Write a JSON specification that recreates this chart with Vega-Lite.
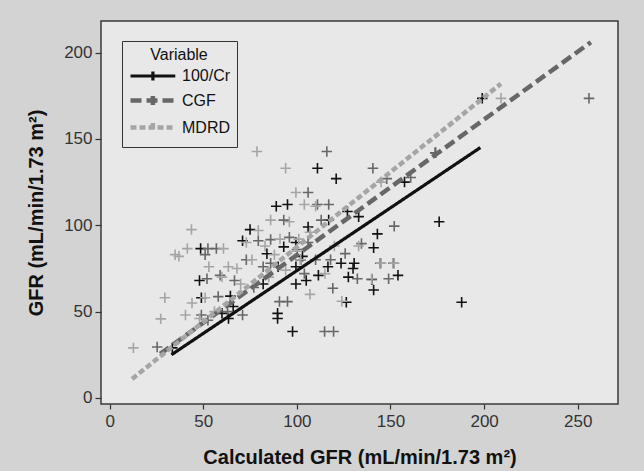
{
  "$schema": "https://vega.github.io/schema/vega-lite/v6.json",
  "width": 517,
  "height": 383,
  "autosize": {"type": "none"},
  "padding": {"left": 101, "top": 21, "right": 26, "bottom": 67},
  "background": "#d3d3d3",
  "config": {
    "view": {"fill": "#e8e8e8", "stroke": "#3a3a3a", "strokeWidth": 1.5},
    "font": "Liberation Sans"
  },
  "datasets": {
    "points": [
      {"series": "100/Cr", "calc": 199, "gfr": 173.5},
      {"series": "100/Cr", "calc": 174, "gfr": 142},
      {"series": "100/Cr", "calc": 157.5, "gfr": 125},
      {"series": "100/Cr", "calc": 176, "gfr": 102},
      {"series": "100/Cr", "calc": 188, "gfr": 55.4},
      {"series": "100/Cr", "calc": 111, "gfr": 133},
      {"series": "100/Cr", "calc": 121, "gfr": 127},
      {"series": "100/Cr", "calc": 89, "gfr": 111},
      {"series": "100/Cr", "calc": 95, "gfr": 112},
      {"series": "100/Cr", "calc": 117, "gfr": 103},
      {"series": "100/Cr", "calc": 106, "gfr": 99},
      {"series": "100/Cr", "calc": 127, "gfr": 108},
      {"series": "100/Cr", "calc": 133, "gfr": 105},
      {"series": "100/Cr", "calc": 143, "gfr": 95},
      {"series": "100/Cr", "calc": 141, "gfr": 87},
      {"series": "100/Cr", "calc": 93, "gfr": 87.5},
      {"series": "100/Cr", "calc": 75, "gfr": 97.5},
      {"series": "100/Cr", "calc": 71, "gfr": 91},
      {"series": "100/Cr", "calc": 48.6, "gfr": 86.5},
      {"series": "100/Cr", "calc": 48, "gfr": 68},
      {"series": "100/Cr", "calc": 49, "gfr": 58},
      {"series": "100/Cr", "calc": 64.5, "gfr": 59},
      {"series": "100/Cr", "calc": 60, "gfr": 49},
      {"series": "100/Cr", "calc": 63.5, "gfr": 46},
      {"series": "100/Cr", "calc": 33.5, "gfr": 29},
      {"series": "100/Cr", "calc": 84, "gfr": 83.5},
      {"series": "100/Cr", "calc": 90, "gfr": 76},
      {"series": "100/Cr", "calc": 99.5, "gfr": 76},
      {"series": "100/Cr", "calc": 103, "gfr": 82},
      {"series": "100/Cr", "calc": 99.5, "gfr": 66},
      {"series": "100/Cr", "calc": 105, "gfr": 68},
      {"series": "100/Cr", "calc": 111.5, "gfr": 71},
      {"series": "100/Cr", "calc": 116.6, "gfr": 76},
      {"series": "100/Cr", "calc": 123.6, "gfr": 78},
      {"series": "100/Cr", "calc": 130.6, "gfr": 78},
      {"series": "100/Cr", "calc": 130, "gfr": 75},
      {"series": "100/Cr", "calc": 127.5, "gfr": 70},
      {"series": "100/Cr", "calc": 126.4, "gfr": 55.4},
      {"series": "100/Cr", "calc": 140, "gfr": 68.6},
      {"series": "100/Cr", "calc": 141, "gfr": 62.5},
      {"series": "100/Cr", "calc": 154, "gfr": 71},
      {"series": "100/Cr", "calc": 89.7, "gfr": 49},
      {"series": "100/Cr", "calc": 89.7, "gfr": 46},
      {"series": "100/Cr", "calc": 97.7, "gfr": 38.5},
      {"series": "100/Cr", "calc": 99.5, "gfr": 90},
      {"series": "100/Cr", "calc": 82, "gfr": 66},
      {"series": "100/Cr", "calc": 102, "gfr": 80},
      {"series": "100/Cr", "calc": 66, "gfr": 53},
      {"series": "CGF", "calc": 256, "gfr": 173.5},
      {"series": "CGF", "calc": 116, "gfr": 142.7},
      {"series": "CGF", "calc": 140.6, "gfr": 133},
      {"series": "CGF", "calc": 148, "gfr": 127},
      {"series": "CGF", "calc": 106, "gfr": 119},
      {"series": "CGF", "calc": 111, "gfr": 112},
      {"series": "CGF", "calc": 117, "gfr": 112},
      {"series": "CGF", "calc": 93, "gfr": 103},
      {"series": "CGF", "calc": 152, "gfr": 99.5},
      {"series": "CGF", "calc": 52.5, "gfr": 86.5},
      {"series": "CGF", "calc": 51, "gfr": 83},
      {"series": "CGF", "calc": 57, "gfr": 86.5},
      {"series": "CGF", "calc": 79.4, "gfr": 91},
      {"series": "CGF", "calc": 86, "gfr": 91.7},
      {"series": "CGF", "calc": 73, "gfr": 80},
      {"series": "CGF", "calc": 66.7, "gfr": 68},
      {"series": "CGF", "calc": 59, "gfr": 71},
      {"series": "CGF", "calc": 52, "gfr": 69},
      {"series": "CGF", "calc": 25.4, "gfr": 29.5},
      {"series": "CGF", "calc": 49, "gfr": 48},
      {"series": "CGF", "calc": 52.5, "gfr": 45},
      {"series": "CGF", "calc": 58, "gfr": 58.7},
      {"series": "CGF", "calc": 71, "gfr": 48},
      {"series": "CGF", "calc": 134.5, "gfr": 89.4},
      {"series": "CGF", "calc": 144.5, "gfr": 78},
      {"series": "CGF", "calc": 151.5, "gfr": 78},
      {"series": "CGF", "calc": 149, "gfr": 69},
      {"series": "CGF", "calc": 125.8, "gfr": 83.6},
      {"series": "CGF", "calc": 119.2, "gfr": 63.5},
      {"series": "CGF", "calc": 114.8, "gfr": 38.5},
      {"series": "CGF", "calc": 119.6, "gfr": 38.5},
      {"series": "CGF", "calc": 95, "gfr": 55.8},
      {"series": "CGF", "calc": 90.7, "gfr": 55.8},
      {"series": "CGF", "calc": 104, "gfr": 72},
      {"series": "CGF", "calc": 118, "gfr": 80},
      {"series": "CGF", "calc": 82, "gfr": 76},
      {"series": "CGF", "calc": 132.3, "gfr": 69},
      {"series": "CGF", "calc": 160.8, "gfr": 127.7},
      {"series": "CGF", "calc": 174, "gfr": 142},
      {"series": "CGF", "calc": 113, "gfr": 103},
      {"series": "CGF", "calc": 100, "gfr": 86},
      {"series": "CGF", "calc": 106, "gfr": 90},
      {"series": "CGF", "calc": 96, "gfr": 93},
      {"series": "CGF", "calc": 86, "gfr": 78},
      {"series": "CGF", "calc": 77, "gfr": 64},
      {"series": "CGF", "calc": 63, "gfr": 50},
      {"series": "CGF", "calc": 110, "gfr": 80},
      {"series": "MDRD", "calc": 209, "gfr": 173.5},
      {"series": "MDRD", "calc": 78.7, "gfr": 142.7},
      {"series": "MDRD", "calc": 94, "gfr": 133},
      {"series": "MDRD", "calc": 99.5, "gfr": 119},
      {"series": "MDRD", "calc": 104, "gfr": 112},
      {"series": "MDRD", "calc": 86, "gfr": 103},
      {"series": "MDRD", "calc": 43.7, "gfr": 97.5},
      {"series": "MDRD", "calc": 35, "gfr": 83},
      {"series": "MDRD", "calc": 37, "gfr": 82},
      {"series": "MDRD", "calc": 41.5, "gfr": 86.5},
      {"series": "MDRD", "calc": 60.8, "gfr": 86.5},
      {"series": "MDRD", "calc": 73, "gfr": 90},
      {"series": "MDRD", "calc": 79.4, "gfr": 97},
      {"series": "MDRD", "calc": 63.4, "gfr": 76},
      {"series": "MDRD", "calc": 29.5, "gfr": 58},
      {"series": "MDRD", "calc": 27.3, "gfr": 45.8},
      {"series": "MDRD", "calc": 40.5, "gfr": 48},
      {"series": "MDRD", "calc": 12.7, "gfr": 29},
      {"series": "MDRD", "calc": 51, "gfr": 58},
      {"series": "MDRD", "calc": 48, "gfr": 46},
      {"series": "MDRD", "calc": 56, "gfr": 50},
      {"series": "MDRD", "calc": 68, "gfr": 75},
      {"series": "MDRD", "calc": 76, "gfr": 80},
      {"series": "MDRD", "calc": 83, "gfr": 88},
      {"series": "MDRD", "calc": 96, "gfr": 102},
      {"series": "MDRD", "calc": 91, "gfr": 92},
      {"series": "MDRD", "calc": 101, "gfr": 92},
      {"series": "MDRD", "calc": 107, "gfr": 96},
      {"series": "MDRD", "calc": 60, "gfr": 70},
      {"series": "MDRD", "calc": 70, "gfr": 66},
      {"series": "MDRD", "calc": 85, "gfr": 70},
      {"series": "MDRD", "calc": 94, "gfr": 74},
      {"series": "MDRD", "calc": 100, "gfr": 85},
      {"series": "MDRD", "calc": 110, "gfr": 111},
      {"series": "MDRD", "calc": 120, "gfr": 88},
      {"series": "MDRD", "calc": 133, "gfr": 88},
      {"series": "MDRD", "calc": 145, "gfr": 78},
      {"series": "MDRD", "calc": 152, "gfr": 78},
      {"series": "MDRD", "calc": 140, "gfr": 69},
      {"series": "MDRD", "calc": 115, "gfr": 72},
      {"series": "MDRD", "calc": 145, "gfr": 125},
      {"series": "MDRD", "calc": 102, "gfr": 80},
      {"series": "MDRD", "calc": 88, "gfr": 83},
      {"series": "MDRD", "calc": 53, "gfr": 76},
      {"series": "MDRD", "calc": 44, "gfr": 55},
      {"series": "MDRD", "calc": 107, "gfr": 60},
      {"series": "MDRD", "calc": 124, "gfr": 56}
    ],
    "lines": [
      {"series": "100/Cr", "calc": 33, "gfr": 25},
      {"series": "100/Cr", "calc": 198, "gfr": 145},
      {"series": "CGF", "calc": 27, "gfr": 25.5},
      {"series": "CGF", "calc": 257, "gfr": 206},
      {"series": "MDRD", "calc": 12, "gfr": 11},
      {"series": "MDRD", "calc": 209, "gfr": 182}
    ]
  },
  "layer": [
    {
      "data": {"name": "points"},
      "mark": {"type": "point", "shape": "M-1,0L1,0M0,-1L0,1", "filled": false, "size": 110, "strokeWidth": 1.6, "opacity": 1},
      "encoding": {
        "x": {
          "field": "calc", "type": "quantitative",
          "scale": {"domain": [-4.6, 271.5], "nice": false, "zero": false},
          "axis": {
            "values": [0, 50, 100, 150, 200, 250], "domain": false, "grid": false,
            "tickSize": 5, "tickColor": "#333", "tickWidth": 1.2,
            "labelFontSize": 17, "labelColor": "#333", "labelPadding": 4,
            "title": "Calculated GFR (mL/min/1.73 m²)", "titleFontSize": 20, "titleFontWeight": "bold", "titleColor": "#111", "titlePadding": 18
          }
        },
        "y": {
          "field": "gfr", "type": "quantitative",
          "scale": {"domain": [-3.5, 218.3], "nice": false, "zero": false},
          "axis": {
            "values": [0, 50, 100, 150, 200], "domain": false, "grid": false,
            "tickSize": 6, "tickColor": "#333", "tickWidth": 1.2,
            "labelFontSize": 17, "labelColor": "#333", "labelPadding": 3,
            "title": "GFR (mL/min/1.73 m²)", "titleFontSize": 20, "titleFontWeight": "bold", "titleColor": "#111", "titlePadding": 17
          }
        },
        "color": {
          "field": "series", "type": "nominal",
          "scale": {"domain": ["100/Cr", "CGF", "MDRD"], "range": ["#111111", "#676767", "#a5a5a5"]},
          "legend": {
            "orient": "none", "legendX": 21, "legendY": 20,
            "title": "Variable", "titleAnchor": "middle", "titleFontSize": 16, "titleFontWeight": "normal", "titleColor": "#111", "titlePadding": 3,
            "labelFontSize": 16, "labelColor": "#111", "labelOffset": 33,
            "labelExpr": "datum.label + '\u00a0\u00a0\u00a0\u00a0\u00a0\u00a0\u00a0\u00a0\u00a0\u00a0\u00a0\u00a0\u00a0\u00a0\u00a0\u00a0\u00a0'",
            "rowPadding": 0,
            "symbolType": "M-1,0H4.6M1.8,-0.55V0.55", "symbolSize": 256, "symbolStrokeWidth": 4,
            "fillColor": "#e8e8e8", "strokeColor": "#333", "padding": 6
          }
        }
      }
    },
    {
      "data": {"name": "lines"},
      "mark": {"type": "line"},
      "encoding": {
        "x": {"field": "calc", "type": "quantitative"},
        "y": {"field": "gfr", "type": "quantitative"},
        "order": {"field": "calc"},
        "color": {
          "field": "series", "type": "nominal",
          "legend": {
            "orient": "none", "legendX": 21, "legendY": 20,
            "title": "Variable", "titleAnchor": "middle", "titleFontSize": 16, "titleFontWeight": "normal", "titleColor": "#111", "titlePadding": 3,
            "labelFontSize": 16, "labelColor": "#111", "labelOffset": 33,
            "labelExpr": "datum.label + '\u00a0\u00a0\u00a0\u00a0\u00a0\u00a0\u00a0\u00a0\u00a0\u00a0\u00a0\u00a0\u00a0\u00a0\u00a0\u00a0\u00a0'",
            "rowPadding": 0,
            "symbolType": "M-1,0H4.6M1.8,-0.55V0.55", "symbolSize": 256, "symbolStrokeWidth": 4,
            "fillColor": "#e8e8e8", "strokeColor": "#333", "padding": 6
          }
        },
        "strokeDash": {
          "field": "series", "type": "nominal", "legend": null,
          "scale": {"domain": ["100/Cr", "CGF", "MDRD"], "range": [[1, 0], [11, 5], [6, 3]]}
        },
        "strokeWidth": {
          "field": "series", "type": "nominal", "legend": null,
          "scale": {"type": "ordinal", "domain": ["100/Cr", "CGF", "MDRD"], "range": [3.2, 4.5, 4.5]}
        }
      }
    }
  ]
}
